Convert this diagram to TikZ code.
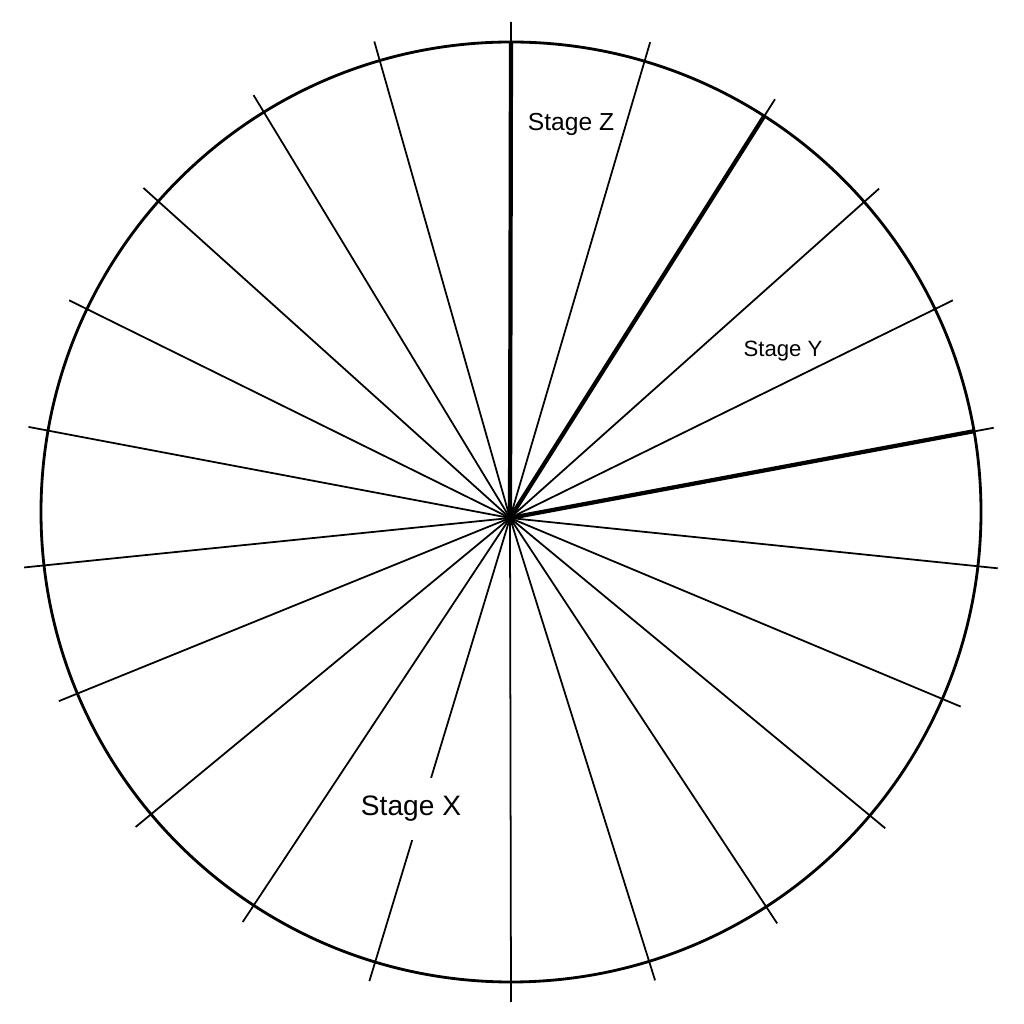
\documentclass[tikz,border=0pt]{standalone}
\usepackage{fontspec}
\setmainfont{Liberation Sans}
\usetikzlibrary{positioning}
\tikzset{spoke/.style={line width=0.5pt}}
\tikzset{stagespoke/.style={line width=1.2pt}}
\tikzset{rim/.style={line width=0.8pt}}
\tikzset{stage/.style={inner sep=1pt,anchor=base}}

\begin{document}
\begin{tikzpicture}[x=0.01cm,y=0.01cm]
        \useasboundingbox (0,0) rectangle (1024,1024);
        \coordinate (C) at (511,512);
        \coordinate (O) at (510,506);
        \draw[rim] (C) circle [radius=470];
        % spokes, each running a little past the rim
        \foreach \a [count=\i] in {90,73.5,57.4,41.3,25.6,9.9,-6.6,-23.4,-40.2,-57.1,-72.9,
                -90,-106.8,-123.2,-140,-157.3,-173.5,170,154.4,138.6,121.7,106.2}
        {
                \coordinate (t\i) at ([shift={(\a:490)}]C);
                \draw[spoke] (O) -- (t\i);
        }
        % the three stage boundaries
        \foreach \a [count=\i] in {90,57.4,9.9}
        {
                \coordinate (b\i) at ([shift={(\a:470)}]C);
                \draw[stagespoke] (O) -- (b\i);
        }
        \node(stZ)[stage,font=\fontsize{7}{8}\selectfont] at (571,893){Stage Z};
        \node(stY)[stage,font=\fontsize{6.3}{7.5}\selectfont] at (783,667){Stage Y};
        \node(stX)[stage,fill=white,inner xsep=2pt,inner ysep=5.1pt,
                font=\fontsize{8}{9.6}\selectfont] at (411,208){Stage X};
\end{tikzpicture}
\end{document}
